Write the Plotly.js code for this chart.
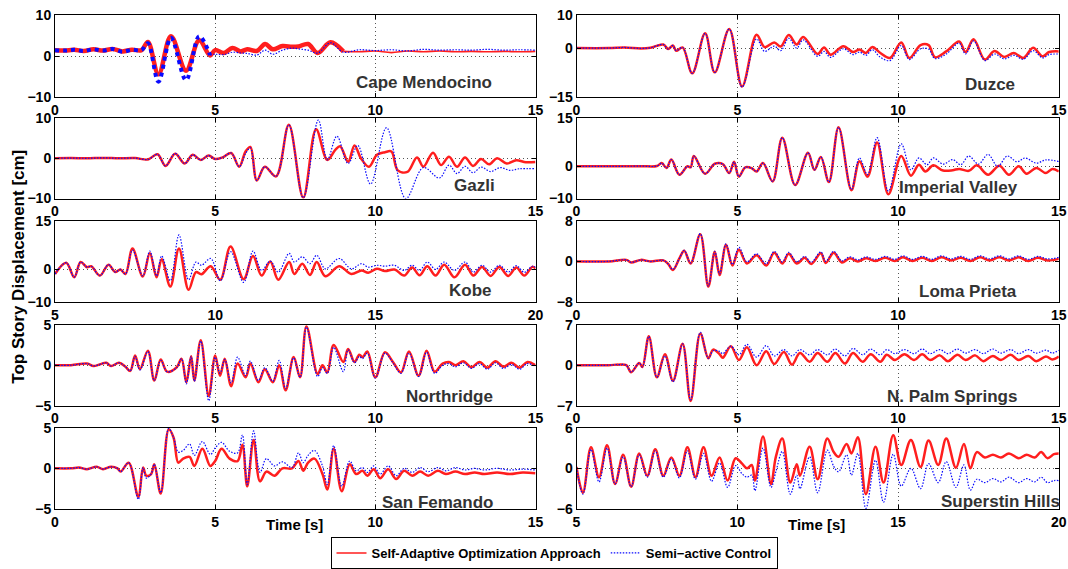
<!DOCTYPE html>
<html>
<head>
<meta charset="utf-8">
<script src="https://cdn.plot.ly/plotly-3.0.1.min.js"></script>
<style>html,body{margin:0;padding:0;background:#fff;}#chart{width:1068px;height:569px;}</style>
</head>
<body>
<div id="chart"></div>
<script>
// ---------- DATA ----------
const seriesNames = ['Self-Adaptive Optimization Approach', 'Semi\u2212active Control'];
const panelNames = ['Cape Mendocino', 'Duzce', 'Gazli', 'Imperial Valley', 'Kobe', 'Loma Prieta', 'Northridge', 'N. Palm Springs', 'San Femando', 'Superstin Hills'];

// Cape Mendocino
const cmT    = [0,0.3,0.6,0.9,1.2,1.5,1.8,2.1,2.4,2.7, 2.9,3.23,3.62,4.09,4.5,4.84,5.0,5.27,5.54,5.8, 6.0,6.3,6.56,6.8,7.1,7.4,7.6,7.9,8.2,8.6, 9.0,9.5,10.0,10.5,11.0,11.5,12.0,12.5,13.0,13.5, 14.0,14.5,15.0];
const cmRed  = [1.5,1.4,1.6,1.3,1.7,1.4,1.8,1.2,1.6,1.5, 3.5,-4.4,4.9,-3.5,3.9,0.2,1.5,0.8,2.0,1.2, 1.7,1.3,3.0,1.7,2.5,2.3,2.4,3.0,0.8,3.4, 1.2,1.1,1.3,0.9,1.3,1.1,1.3,1.1,1.2,1.1, 1.2,1.1,1.2];
const cmBlue = [1.5,1.4,1.6,1.3,1.7,1.4,1.8,1.1,1.6,1.5, 3.2,-6.2,4.5,-5.8,4.9,0.3,0.5,0.4,1.0,0.8, 0.7,0.3,1.5,0.5,1.5,2.0,1.8,1.5,0.8,3.3, 1.0,1.6,1.4,1.6,1.3,1.7,1.5,1.6,1.5,1.7, 1.5,1.6,1.5];

// Duzce
const duT    = [0,1.0,1.5,2.0,2.3,2.7,2.85,3.0,3.1,3.3, 3.6,4.0,4.3,4.75,5.15,5.6,5.85,6.15,6.35,6.6, 6.85,7.05,7.5,7.7,7.9,8.3,8.6,8.8,9.0,9.2, 9.45,9.75,10.1,10.35,10.7,10.95,11.15,11.5,11.9,12.1, 12.35,12.7,13.0,13.3,13.6,13.9,14.2,14.5,14.7,15.0];
const duRed  = [0,0,0.2,-0.1,0.1,1.1,-0.3,0.8,-0.8,0.2, -7.7,4.5,-7.4,5.8,-11.7,4.1,0.3,1.7,0.5,4.0, 1.1,3.4,-1.8,0.2,-2.0,0.6,-1.2,-0.4,-1.5,0.3, -1.5,-3.0,1.7,-3.0,0.9,0.9,-2.8,-1.0,2.0,-1.2, 2.7,-3.5,-0.9,-2.7,-1.5,-3.0,0.1,-2.5,-1.2,-1.0];
const duBlue = [0,0,0.2,-0.1,0.1,1.1,-0.3,0.8,-0.8,0.2, -7.7,4.5,-7.4,5.8,-11.9,2.8,-1.0,0.6,-0.8,3.0, 0.0,2.5,-2.5,-1.0,-2.8,-0.2,-2.0,-1.2,-2.2,-0.5, -2.8,-3.8,0.8,-3.5,-0.2,-0.3,-3.2,-1.8,1.5,-1.8, 2.2,-3.8,-1.8,-3.3,-2.2,-3.4,-0.8,-3.0,-2.0,-1.8];

// Gazli
const gaT    = [0,0.5,1.0,1.5,2.0,2.5,2.9,3.2,3.45,3.75, 4.05,4.3,4.55,4.8,5.0,5.25,5.5,5.75,5.95,6.1, 6.3,6.55,6.9,7.3,7.75,8.15,8.5,8.75,8.9,9.15, 9.35,9.55,9.8,10.05,10.3,10.5,10.7,11.0,11.3,11.5, 11.8,12.05,12.3,12.55,12.8,13.05,13.3,13.55,13.8,14.1, 14.4,14.7,15.0];
const gaRed  = [0,0.05,0,0.1,0,0.05,-0.3,1.0,-1.9,1.1, -1.3,0.85,-0.4,0.7,-0.2,0.3,1.3,-2.1,1.7,2.8, -5.5,-2.1,-4.5,8.3,-9.8,7.2,-0.4,2.1,3.0,-0.85, 3.2,0,-2.1,0.85,1.5,1.7,-3.0,-3.4,0.2,-2.1, 1.4,-1.7,0.4,-2.1,0.2,-1.9,-0.2,-1.5,0,-1.3, -0.5,-1.0,-0.9];
const gaTB   = [0,0.5,1.0,1.5,2.0,2.5,2.9,3.2,3.45,3.75, 4.05,4.3,4.55,4.8,5.0,5.25,5.5,5.75,5.95,6.1, 6.3,6.55,6.9,7.3,7.75,8.22,8.5,8.8,9.15,9.45, 9.85,10.35,10.95,11.5,12.0,12.3,12.55,12.8,13.05,13.3, 13.6,13.9,14.2,14.5,15.0];
const gaBlue = [0,0.05,0,0.1,0,0.05,-0.3,1.0,-1.9,1.2, -1.3,0.85,-0.4,0.7,-0.2,0.3,1.3,-2.1,1.2,2.6, -5.5,-2.1,-4.5,8.3,-9.8,9.5,-0.4,5.5,-1.3,3.2, -6.4,7.6,-10.0,-2.3,-4.9,-1.7,-3.8,-2.0,-3.6,-2.2, -3.3,-2.3,-3.0,-2.6,-2.6];

// Imperial Valley
const ivT    = [0,1.0,2.0,2.5,2.65,2.8,2.95,3.2,3.45,3.55, 3.65,4.0,4.3,4.55,4.75,4.9,5.05,5.25,5.45,5.6, 5.8,6.1,6.4,6.8,7.2,7.4,7.6,7.85,8.15,8.55, 8.8,9.05,9.35,9.7,10.1,10.4,10.65,10.85,11.1,11.4, 11.7,11.9,12.2,12.45,12.8,13.15,13.45,13.75,14.0,14.3, 14.6,14.8,15.0];
const ivRed  = [0,0,0.05,0.1,1.0,-0.5,2.1,-2.6,0,-0.3, 3.2,-2.3,0.8,0.7,-2.1,1.4,-3.2,-0.3,-0.6,-1.6, 1.0,-4.7,8.9,-5.8,4.2,-1.1,2.9,-4.9,12.1,-7.4, 1.6,-3.2,7.4,-8.7,3.2,-2.9,0.5,-1.6,0.3,-1.3, -1.2,-0.8,-1.4,0.3,-2.6,0.2,-2.6,0,-2.3,-0.5, -2.1,-0.8,-1.6];
const ivTB   = [0,1.0,2.0,2.5,2.65,2.8,2.95,3.2,3.45,3.55, 3.65,4.0,4.3,4.55,4.75,4.9,5.05,5.25,5.45,5.6, 5.8,6.1,6.4,6.8,7.2,7.4,7.6,7.85,8.15,8.55, 8.8,9.05,9.35,9.7,10.1,10.4,10.65,10.9,11.1,11.4, 11.7,11.95,12.2,12.5,12.8,13.1,13.4,13.7,13.95,14.3, 14.6,15.0];
const ivBlue = [0,0,0.05,0.1,1.0,-0.5,2.1,-2.6,0,-0.3, 3.2,-2.3,0.8,0.7,-2.1,1.4,-3.2,-0.3,-0.6,-1.6, 1.0,-4.7,8.9,-5.8,4.2,-1.1,2.9,-4.9,12.1,-7.2, 2.6,-2.6,8.9,-7.7,7.0,-1.1,2.6,0.5,2.6,0.7, 2.1,0.5,3.2,0.7,3.7,0,3.2,1.4,2.6,1.0, 2.0,1.5];

// Kobe (time 5 - 20 s)
const koT    = [5.0,5.35,5.6,5.8,6.0,6.13,6.4,6.67,6.88,7.04, 7.2,7.42,7.74,7.96,8.17,8.33,8.6,8.87,9.17,9.4, 9.57,9.86,10.16,10.48,10.89,11.18,11.45,11.72,11.97,12.31, 12.47,12.72,12.96,13.17,13.44,13.87,14.25,14.57,14.78,15.05, 15.3,15.6,15.9,16.15,16.38,16.62,16.88,17.15,17.47,17.8, 18.06,18.33,18.6,18.87,19.15,19.4,19.65,19.9,20.0];
const koRed  = [-1.4,2.1,-2.4,2.3,0.7,1.0,-1.9,1.5,-0.8,0, -1.4,6.5,-2.2,5.0,-2.4,3.2,-5.3,6.5,-6.3,-0.8, -1.5,1.0,-3.2,7.1,-3.0,4.2,-1.9,2.5,-3.2,2.3, -1.4,1.8,-1.7,2.3,-2.1,1.0,-1.4,-0.3,-1.0,0.2, -0.5,0,-1.9,0.6,-1.8,1.0,-1.9,1.5,-2.4,1.5, -1.9,0.8,-2.0,0.8,-2.0,0.6,-1.9,0.8,0.3];
const koBlue = [-1.4,2.1,-2.4,2.3,0.7,1.0,-1.9,1.5,-0.8,0, -1.4,6.0,-2.0,5.7,-2.0,4.2,-3.5,10.7,-3.2,2.3, 1.3,3.4,-3.5,5.5,-4.0,5.7,-0.3,2.6,-0.8,5.0, 2.3,3.9,1.8,4.4,0.2,3.4,0.2,1.8,0.7,1.3, 1.0,1.3,-0.3,1.3,-0.3,2.3,0,2.3,-0.3,2.3, -0.8,1.3,-0.8,1.3,-0.8,1.2,-0.9,1.0,0.7];

// Loma Prieta
const lpT    = [0,1.0,1.55,1.7,2.0,2.3,2.7,2.85,3.0,3.2, 3.35,3.55,3.85,4.1,4.3,4.45,4.65,4.85,5.05,5.3, 5.6,5.9,6.15,6.4,6.6,6.85,7.1,7.3,7.6,7.75, 8.0,8.25,8.5,8.75,9.0,9.3,9.6,9.9,10.15,10.45, 10.75,11.05,11.35,11.65,11.95,12.25,12.55,12.85,13.15,13.45, 13.75,14.05,14.35,14.65,15.0];
const lpRed  = [0,0,0.3,-0.2,0.3,0,0.2,-0.5,-1.7,0.6, 2.1,-0.4,5.4,-5.0,1.9,-2.7,3.3,-0.8,2.3,-0.4, 1.2,-0.8,1.7,-0.4,1.5,-0.4,0.7,-0.5,1.6,-0.3, 1.7,-0.2,0.6,0.0,0.6,0.1,0.7,0.1,0.8,0.1, 0.7,0.1,0.8,0.2,0.7,0.1,0.8,0.2,0.8,0.2, 0.8,0.1,0.7,0.2,0.5];
const lpBlue = [0,0,0.3,-0.2,0.3,0,0.2,-0.5,-1.6,0.6, 2.2,-0.3,5.5,-4.9,2.0,-2.5,3.5,-0.6,2.8,-0.1, 1.5,-0.5,2.0,-0.1,1.8,-0.1,1.0,-0.2,1.9,0.0, 2.0,0.1,0.9,0.3,0.9,0.4,1.0,0.4,1.1,0.4, 1.0,0.4,1.1,0.5,1.0,0.4,1.1,0.5,1.1,0.5, 1.1,0.4,1.0,0.5,0.8];

// Northridge
const nrT    = [0,0.5,1.0,1.2,1.4,1.6,1.75,2.0,2.2,2.35, 2.5,2.65,2.9,3.1,3.3,3.5,3.8,3.95,4.1,4.25, 4.35,4.55,4.8,5.0,5.15,5.3,5.5,5.7,5.95,6.1, 6.35,6.55,6.8,7.0,7.2,7.45,7.65,7.85,8.2,8.35, 8.5,8.7,9.0,9.15,9.35,9.5,9.6,9.75,10.0,10.3, 10.55,10.8,11.05,11.35,11.6,11.85,12.1,12.3,12.5,12.75, 13.0,13.25,13.5,13.75,14.0,14.25,14.5,14.75,15.0];
const nrRed  = [0,0,0.2,-0.1,0.1,0.3,-0.1,0.3,-0.2,-0.7, 1.2,-0.5,1.8,-1.9,0.7,-0.8,-0.25,0.8,-2.1,1.1, -1.9,3.1,-3.8,1.2,-1.3,0.8,-2.6,0.2,-1.5,0.2, -2.1,-0.5,-2.1,0,-3.1,1.0,-1.5,4.8,-1.1,0, -0.9,2.5,0.4,2.0,0.4,1.3,1.0,1.7,-1.5,1.6, 0.4,-0.9,1.7,-1.3,1.8,-0.8,0.2,0.4,0,0.5, -0.25,0.4,-0.3,0.5,-0.2,0.3,-0.3,0.4,0];
const nrBlue = [0,0,0.2,-0.1,0.1,0.3,-0.1,0.3,-0.2,-0.7, 1.1,-0.6,1.7,-1.9,0.6,-0.8,-0.3,0.8,-2.3,1.1, -2.0,3.0,-4.4,1.0,-1.0,0.7,-2.2,1.0,-1.3,0.5, -1.9,-0.3,-2.0,0.6,-2.9,0.9,-1.5,4.7,-1.4,-0.3, -1.0,2.2,-0.8,1.9,0.3,1.1,0.8,1.5,-1.6,1.5, 0.3,-1.0,1.5,-1.4,1.6,-1.0,0.0,0.2,-0.2,0.3, -0.4,0.2,-0.5,0.3,-0.4,0.1,-0.5,0.2,-0.2];

// N. Palm Springs
const npT    = [0,1.0,1.3,1.55,1.7,1.95,2.05,2.25,2.5,2.75, 3.0,3.3,3.55,3.85,4.1,4.25,4.45,4.55,4.8,5.05, 5.3,5.6,5.9,6.15,6.45,6.7,6.95,7.25,7.5,7.8, 8.05,8.35,8.6,8.9,9.15,9.45,9.65,9.9,10.2,10.5, 10.75,11.0,11.3,11.55,11.85,12.1,12.4,12.65,12.95,13.2, 13.5,13.75,14.05,14.3,14.6,14.8,15.0];
const npRed  = [0,0,0.1,0,-1.2,0.4,-0.3,5.0,-2.1,1.9, -2.7,3.7,-6.2,5.5,1.2,2.7,1.9,1.3,3.3,0.9, 3.1,0,2.4,0.2,2.3,0.1,2.1,0.6,2.1,0.6, 2.1,0.3,2.1,0.6,1.9,0.6,1.8,0.9,1.9,0.9, 1.9,0.9,1.7,0.7,1.8,0.9,1.7,0.7,1.6,0.9, 1.8,0.9,1.6,0.7,1.5,1.0,1.5];
const npBlue = [0,0,0.1,0,-1.2,0.4,-0.3,5.0,-2.1,1.6, -2.9,3.7,-6.0,5.7,1.2,2.5,2.4,2.0,3.3,1.8, 3.6,1.4,3.4,1.6,2.7,1.6,2.7,1.8,2.7,1.8, 2.8,1.6,2.9,1.8,2.8,1.8,2.7,2.0,2.7,2.0, 2.8,2.0,2.7,2.0,2.8,2.1,2.7,2.0,2.8,2.1, 2.7,2.0,2.7,2.1,2.6,2.1,2.6];

// San Fernando
const sfT    = [0,0.5,0.75,1.0,1.3,1.5,1.75,1.95,2.05,2.3, 2.6,2.75,2.85,3.0,3.1,3.3,3.55,3.7,3.85,4.0, 4.2,4.35,4.6,4.85,5.0,5.2,5.45,5.7,5.85,6.0, 6.2,6.4,6.6,6.85,7.1,7.4,7.6,7.75,7.9,8.1, 8.35,8.5,8.7,8.95,9.2,9.4,9.6,9.75,9.95,10.15, 10.4,10.65,10.9,11.15,11.4,11.65,11.95,12.2,12.5,12.8, 13.1,13.4,13.8,14.2,14.6,15.0];
const sfRed  = [0,0,0.1,-0.1,0.2,-0.1,0.2,0.0,-0.4,0.7, -3.5,0.1,-0.9,-0.7,0.5,-3.1,4.8,3.8,0.7,1.2, 1.4,0.3,2.4,0.3,0.9,2.4,1.2,0.9,2.9,-2.2, 3.5,-1.6,-0.4,-0.9,0,0,0.9,-0.3,0.7,1.2, -0.7,-2.6,2.4,-2.8,0.5,-0.7,-0.3,-0.9,-0.1,-1.2, -0.1,-1.3,-0.3,-0.9,-0.4,-0.9,-0.3,-0.7,-0.4,-0.7, -0.5,-0.7,-0.5,-0.7,-0.5,-0.6];
const sfBlue = [0,0,0.1,-0.1,0.2,-0.1,0.2,0.0,-0.4,0.7, -3.8,0.1,-1.2,-0.7,0.5,-3.0,4.9,3.8,2.0,2.2, 3.0,1.6,3.3,1.7,2.5,3.2,2.1,1.9,4.1,-2.0, 4.6,-0.5,1.2,0.3,0.8,0.1,1.9,0.7,1.6,2.2, 0.3,-2.0,2.8,-2.2,0.9,-0.3,0.1,-0.5,0.3,-0.7, 0.3,-0.9,0,-0.5,0.1,-0.4,0.1,-0.3,0.1,-0.2, 0.0,-0.2,0.0,-0.2,-0.1,-0.2];

// Superstition Hills (time 5 - 20 s)
const shT    = [5.0,5.2,5.45,5.7,5.95,6.2,6.45,6.7,6.95,7.2, 7.45,7.7,7.95,8.2,8.45,8.7,8.95,9.2,9.45,9.7, 9.95,10.15,10.3,10.45,10.55,10.8,11.05,11.2,11.4,11.65, 11.85,11.95,12.25,12.5,12.8,13.0,13.15,13.4,13.55,13.75, 14.0,14.3,14.55,14.85,15.1,15.4,15.7,15.95,16.25,16.5, 16.8,17.05,17.25,17.45,17.7,17.95,18.2,18.45,18.75,19.0, 19.25,19.45,19.65,19.85,20.0];
const shRed  = [0.2,-3.6,3.1,-1.3,3.4,-2.3,2.0,-2.7,2.2,-1.1, 2.8,-1.1,1.6,-1.1,3.1,-1.3,3.1,-1.1,1.6,-1.8, 1.5,0.7,0,0.5,-1.8,4.7,-2.3,1.7,4.4,-2.1, 0.6,-1.1,3.2,-1.6,4.4,2.4,1.7,3.6,2.2,4.6, -3.8,3.2,-2.1,4.9,0.5,4.2,0.2,4.1,0.5,4.4, 0.1,3.6,0,2.4,1.6,2.0,1.6,2.2,1.5,2.0, 1.6,2.4,1.5,2.1,2.2];
const shBlue = [0.2,-3.8,2.8,-2.0,3.0,-2.3,1.7,-2.7,2.0,-1.3, 2.6,-1.3,1.4,-1.4,2.6,-1.6,2.2,-1.9,0.8,-2.8, 0.4,-0.8,-1.3,-1.0,-3.3,3.0,-2.8,-0.5,2.5,-3.8, -1.0,-3.0,1.7,-3.6,2.7,0.3,-0.5,2.0,-1.0,2.2, -5.9,1.2,-5.0,2.1,-2.6,0.0,-3.0,0.7,-2.1,1.0, -2.8,0.5,-3.2,-1.6,-2.1,-1.5,-2.0,-1.3,-2.1,-1.5, -2.0,-1.3,-2.1,-1.8,-1.8];

// axis ranges and panel label positions (data units)
const xRanges = [[0,15],[0,15],[0,15],[0,15],[5,20],[0,15],[0,15],[0,15],[0,15],[5,20]];
const yRanges = [[-10,10],[-15,10],[-10,10],[-10,15],[-10,15],[-8,8],[-5,5],[-7,7],[-5,5],[-6,6]];
const labelX  = [11.53, 12.87, 13.1, 11.88, 17.96, 12.17, 12.31, 11.67, 11.94, 18.2];
const labelY  = [-6.5, -11.0, -6.8, -6.6, -6.4, -5.9, -3.9, -5.4, -4.25, -4.95];

const redT  = [cmT, duT, gaT, ivT, koT, lpT, nrT, npT, sfT, shT];
const redV  = [cmRed, duRed, gaRed, ivRed, koRed, lpRed, nrRed, npRed, sfRed, shRed];
const blueT = [cmT, duT, gaTB, ivTB, koT, lpT, nrT, npT, sfT, shT];
const blueV = [cmBlue, duBlue, gaBlue, ivBlue, koBlue, lpBlue, nrBlue, npBlue, sfBlue, shBlue];

// Cape Mendocino: thick plotting up to these times in the original
const cmRedThickEnd = 9.0, cmBlueThickEnd = 4.84;

// ---------- LAYOUT ----------
const W = 1068, H = 569;
const colPx = [[55, 535.5], [576.5, 1058.8]];
const rowPx = [[15.5, 98.5], [119.5, 201], [223.8, 305.5], [328.8, 410.7], [433, 515.4]];
const RED = 'rgb(255,30,30)', BLUE = 'rgb(10,10,255)';
const FAM = 'Liberation Sans, Arial, sans-serif';
const tickFont = {family: FAM, size: 14, color: '#000', weight: 'bold'};
const BLUEDASH = '1.5px,1.5px';

const layout = {
  width: W, height: H,
  margin: {l: 0, r: 0, t: 0, b: 0},
  paper_bgcolor: '#fff', plot_bgcolor: '#fff',
  showlegend: true,
  legend: {
    orientation: 'h', x: 554 / W, xanchor: 'center', y: 1 - 544 / H, yanchor: 'top',
    bgcolor: '#fff', bordercolor: '#000', borderwidth: 1,
    font: {family: FAM, size: 13, color: '#000', weight: 'bold'},
    itemwidth: 30, tracegroupgap: 0
  },
  annotations: [],
  font: {family: FAM}
};

const traces = [];
for (let i = 0; i < 10; i++) {
  const row = Math.floor(i / 2), col = i % 2;
  const n = i + 1;
  const xa = 'xaxis' + (n === 1 ? '' : n), ya = 'yaxis' + (n === 1 ? '' : n);
  const xid = 'x' + (n === 1 ? '' : n), yid = 'y' + (n === 1 ? '' : n);
  const xr = xRanges[i], yr = yRanges[i];
  const common = {
    ticks: 'inside', ticklen: 4, tickcolor: '#000',
    showline: true, mirror: 'ticks', linecolor: '#000', linewidth: 1,
    showgrid: true, gridcolor: '#555', griddash: '1px,3px', gridwidth: 1, zeroline: false,
    tickfont: tickFont, fixedrange: true
  };
  layout[xa] = Object.assign({domain: [colPx[col][0] / W, colPx[col][1] / W], anchor: yid, range: xr,
    tickvals: [xr[0], xr[0] + 5, xr[0] + 10, xr[1]]}, common);
  layout[ya] = Object.assign({domain: [1 - rowPx[row][1] / H, 1 - rowPx[row][0] / H], anchor: xid, range: yr,
    tickvals: [yr[0], 0, yr[1]]}, common);
  const base = {type: 'scatter', mode: 'lines', xaxis: xid, yaxis: yid, showlegend: false, hoverinfo: 'skip'};
  if (i === 0) {
    const t = redT[0], r = redV[0], tb = blueT[0], b = blueV[0];
    const rk = t.findIndex(v => v >= cmRedThickEnd), bk = tb.findIndex(v => v >= cmBlueThickEnd);
    traces.push(Object.assign({}, base, {x: t.slice(0, rk + 1), y: r.slice(0, rk + 1), line: {color: RED, width: 4.5, shape: 'spline', smoothing: 1}}));
    traces.push(Object.assign({}, base, {x: t.slice(rk), y: r.slice(rk), line: {color: RED, width: 1.6, shape: 'spline', smoothing: 1}}));
    traces.push(Object.assign({}, base, {x: tb.slice(0, bk + 1), y: b.slice(0, bk + 1), line: {color: BLUE, width: 4, dash: '4px,4px', shape: 'spline', smoothing: 1}}));
    traces.push(Object.assign({}, base, {x: tb.slice(bk), y: b.slice(bk), line: {color: BLUE, width: 1.2, dash: BLUEDASH, shape: 'spline', smoothing: 1}}));
  } else {
    traces.push(Object.assign({}, base, {x: redT[i], y: redV[i], line: {color: RED, width: 2.5, shape: 'spline', smoothing: 1}}));
    traces.push(Object.assign({}, base, {x: blueT[i], y: blueV[i], line: {color: BLUE, width: 1.2, dash: BLUEDASH, shape: 'spline', smoothing: 1}}));
  }
  layout.annotations.push({
    xref: xid, yref: yid, x: labelX[i], y: labelY[i], text: panelNames[i], showarrow: false,
    xanchor: 'center', yanchor: 'middle',
    font: {family: FAM, size: 17, color: '#333', weight: 'bold'}
  });
}
// legend-only entries
traces.push({type: 'scatter', mode: 'lines', x: [null], y: [null], xaxis: 'x', yaxis: 'y', name: seriesNames[0], line: {color: RED, width: 1.5}, showlegend: true});
traces.push({type: 'scatter', mode: 'lines', x: [null], y: [null], xaxis: 'x', yaxis: 'y', name: seriesNames[1], line: {color: BLUE, width: 1.2, dash: BLUEDASH}, showlegend: true});

const titleFont = {family: FAM, size: 15, color: '#000', weight: 'bold'};
layout.annotations.push({xref: 'paper', yref: 'paper', x: 294 / W, y: 1 - 531 / H, text: 'Time [s]', showarrow: false, xanchor: 'center', yanchor: 'middle', font: titleFont});
layout.annotations.push({xref: 'paper', yref: 'paper', x: 816 / W, y: 1 - 531 / H, text: 'Time [s]', showarrow: false, xanchor: 'center', yanchor: 'middle', font: titleFont});
layout.annotations.push({xref: 'paper', yref: 'paper', x: 19 / W, y: 1 - 270 / H, text: 'Top Story Displacement [cm]', textangle: -90, showarrow: false, xanchor: 'center', yanchor: 'middle',
  font: {family: FAM, size: 17, color: '#000', weight: 'bold'}});

Plotly.newPlot('chart', traces, layout, {displayModeBar: false, staticPlot: true});
</script>
</body>
</html>
